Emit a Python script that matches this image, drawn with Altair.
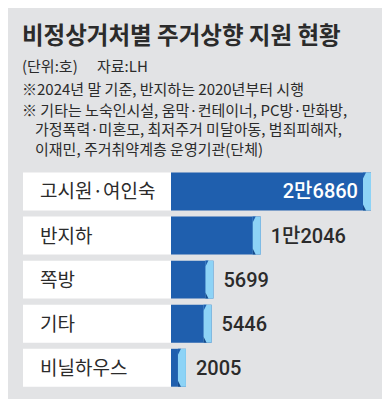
import altair as alt
import pandas as pd

categories = ["고시원·여인숙", "반지하", "쪽방", "기타", "비닐하우스"]
values = [26860, 12046, 5699, 5446, 2005]
value_labels = ["2만6860", "1만2046", "5699", "5446", "2005"]

title_text = "비정상거처별 주거상향 지원 현황"
unit_text = "(단위:호)"
source_text = "자료:LH"
note_lines = [
    "※2024년 말 기준, 반지하는 2020년부터 시행",
    "※ 기타는 노숙인시설, 움막·컨테이너, PC방·만화방,",
    "가정폭력·미혼모, 최저주거 미달아동, 범죄피해자,",
    "이재민, 주거취약계층 운영기관(단체)",
]

df = pd.DataFrame({"cat": categories, "v": values, "lab": value_labels})

BG = "#e2e3e5"
BLUE = "#1f5fae"
DARK = "#164a8c"
LIGHT = "#8dd3f6"
TXT = "#2b2b2b"
KR = "Noto Sans CJK KR"

y_enc = alt.Y("cat:N", sort=categories,
              scale=alt.Scale(range=[164.5, 378.7], paddingInner=0.14, paddingOuter=0),
              axis=None)
x_scale = alt.Scale(domain=[0, 26860], range=[163, 363], zero=True, nice=False)

base = alt.Chart(df)

boxes = base.mark_rect(color="white").encode(
    x=alt.value(15), x2=alt.value(163), y=y_enc)

bars = base.mark_bar(color=BLUE).encode(
    x=alt.X("v:Q", scale=x_scale, axis=None), y=y_enc)

caps = base.mark_rect(color=LIGHT, xOffset=-8).encode(
    x=alt.X("v:Q", scale=x_scale, axis=None), x2="v:Q", y=y_enc)

tri_top = base.mark_point(shape="M-0.5,-1 L0.5,-1 L-0.5,1 Z", size=36, filled=True,
                          opacity=1, strokeWidth=0, color=BLUE,
                          xOffset=-6.5, yOffset=-16).encode(
    x=alt.X("v:Q", scale=x_scale, axis=None), y=y_enc)

tri_bot = base.mark_point(shape="M-0.5,-1 L-0.5,1 L0.5,1 Z", size=36, filled=True,
                          opacity=1, strokeWidth=0, color=DARK,
                          xOffset=-6.5, yOffset=16).encode(
    x=alt.X("v:Q", scale=x_scale, axis=None), y=y_enc)

cat_labels = base.mark_text(align="left", baseline="middle", font=KR, fontSize=19,
                            color=TXT, dy=1).encode(
    x=alt.value(32), y=y_enc, text="cat:N")

val_in = base.transform_filter(alt.datum.v >= 20000).mark_text(
    align="right", baseline="middle", font="Roboto, " + KR, fontSize=20,
    fontWeight=500, color="white", dx=-13, dy=1).encode(
    x=alt.X("v:Q", scale=x_scale, axis=None), y=y_enc, text="lab:N")

val_out = base.transform_filter(alt.datum.v < 20000).mark_text(
    align="left", baseline="middle", font="Roboto, " + KR, fontSize=20,
    fontWeight=500, color=TXT, dx=10, dy=1).encode(
    x=alt.X("v:Q", scale=x_scale, axis=None), y=y_enc, text="lab:N")


def line(text, x, y, size, weight="normal"):
    return alt.Chart(pd.DataFrame({"t": [text]})).mark_text(
        align="left", baseline="alphabetic", font=KR, fontSize=size,
        fontWeight=weight, color=TXT).encode(
        x=alt.value(x), y=alt.value(y), text="t:N")


texts = [
    line(title_text, 14, 36, 23.5, "bold"),
    line(unit_text, 14, 64, 15),
    line(source_text, 89, 64, 15),
    line(note_lines[0], 14, 87, 15),
    line(note_lines[1], 14, 107.5, 15),
    line(note_lines[2], 27, 127, 15),
    line(note_lines[3], 27, 147, 15),
]

chart = alt.layer(boxes, bars, caps, tri_top, tri_bot, cat_labels, val_in, val_out,
                  *texts).properties(
    width=374, height=391, background=BG, padding=0,
    autosize=alt.AutoSizeParams(type="none"),
).configure_view(strokeWidth=0)

chart.save("out.html", embed_options={"renderer": "svg", "actions": False})
